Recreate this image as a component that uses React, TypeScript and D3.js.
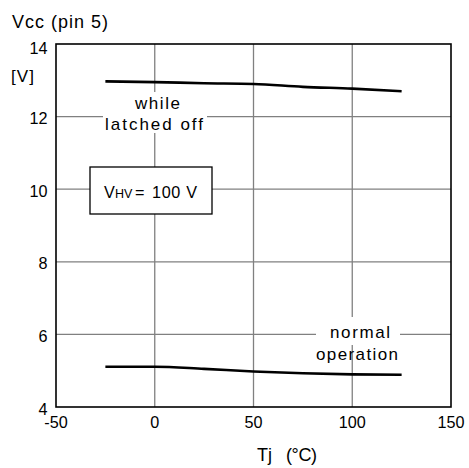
import React from "react";
import * as d3 from "d3";

const xTicks = [-50, 0, 50, 100, 150];
const yTicks = [4, 6, 8, 10, 12, 14];
const gridX = [0, 50, 100];
const gridY = [6, 8, 10, 12];

const tempLatched = [-25, 0, 25, 50, 75, 100, 125];
const vccLatched = [12.97, 12.95, 12.92, 12.9, 12.82, 12.77, 12.7];
const tempNormal = [-25, 0, 25, 50, 75, 100, 125];
const vccNormal = [5.11, 5.11, 5.05, 4.98, 4.93, 4.9, 4.89];

const W = 469;
const H = 468;
const margin = { left: 56, right: 18, top: 44, bottom: 61 };
const font = "'Liberation Sans', Arial, Helvetica, sans-serif";
const FS = 16.2;

export default function App() {
  const x = d3.scaleLinear().domain([-50, 150]).range([margin.left, W - margin.right]);
  const y = d3.scaleLinear().domain([4, 14]).range([H - margin.bottom, margin.top]);
  const line = d3
    .line<[number, number]>()
    .x((d) => x(d[0]))
    .y((d) => y(d[1]))
    .curve(d3.curveMonotoneX);
  const latched = tempLatched.map((t, i) => [t, vccLatched[i]] as [number, number]);
  const normal = tempNormal.map((t, i) => [t, vccNormal[i]] as [number, number]);

  const x0 = x(-50), x1 = x(150), y0 = y(4), y1 = y(14);

  const label = (tx: number, ty: number, len: number, s: string, fs = 17) => (
    <text x={tx} y={ty} fontSize={fs} fill="#000" textLength={len} lengthAdjust="spacing">
      {s}
    </text>
  );

  return (
    <svg
      width={W}
      height={H}
      style={{ position: "absolute", left: 0, top: 0, background: "#fff" }}
      fontFamily={font}
    >
      <rect x={0} y={0} width={W} height={H} fill="#fff" />
      {gridX.map((t) => (
        <line key={"gx" + t} x1={x(t)} x2={x(t)} y1={y0} y2={y1} stroke="#808080" strokeWidth={1.3} />
      ))}
      {gridY.map((t) => (
        <line key={"gy" + t} x1={x0} x2={x1} y1={y(t)} y2={y(t)} stroke="#808080" strokeWidth={1.3} />
      ))}
      {/* label backgrounds interrupting grid */}
      <rect x={103} y={92} width={104} height={41} fill="#fff" />
      <rect x={316} y={317} width={84} height={28} fill="#fff" />
      <rect x={90} y={167} width={122} height={47} fill="#fff" stroke="#000" strokeWidth={1.3} />

      <path d={line(latched) || ""} fill="none" stroke="#000" strokeWidth={2.6} />
      <path d={line(normal) || ""} fill="none" stroke="#000" strokeWidth={2.6} />

      <rect x={x0} y={y1} width={x1 - x0} height={y0 - y1} fill="none" stroke="#000" strokeWidth={1.6} />

      {yTicks.map((t) => (
        <text key={"yt" + t} x={47.5} y={y(t) + (t === 14 ? 9.5 : 7.5)} textAnchor="end" fontSize={FS} fill="#000">
          {t}
        </text>
      ))}
      {xTicks.map((t) => (
        <text key={"xt" + t} x={x(t)} y={428} textAnchor="middle" fontSize={FS} fill="#000">
          {t}
        </text>
      ))}

      {label(12, 28, 96, "Vcc  (pin 5)", 18)}
      {label(11, 82, 23, "[V]", 17)}
      <text y={461} fontSize={18} fill="#000">
        <tspan x={257}>Tj</tspan>
        <tspan x={286} textLength={31} lengthAdjust="spacing">(°C)</tspan>
      </text>

      {label(135, 109, 45, "while")}
      {label(105, 130, 98, "latched off")}

      {label(330, 338, 60, "normal")}
      {label(316, 360, 82, "operation")}

      <text y={197.5} fontSize={16.2} fill="#000">
        <tspan x={104}>V</tspan>
        <tspan x={115} fontSize={12.5}>HV</tspan>
        <tspan x={135}>=</tspan>
        <tspan x={152} textLength={45} lengthAdjust="spacing">100 V</tspan>
      </text>
    </svg>
  );
}
